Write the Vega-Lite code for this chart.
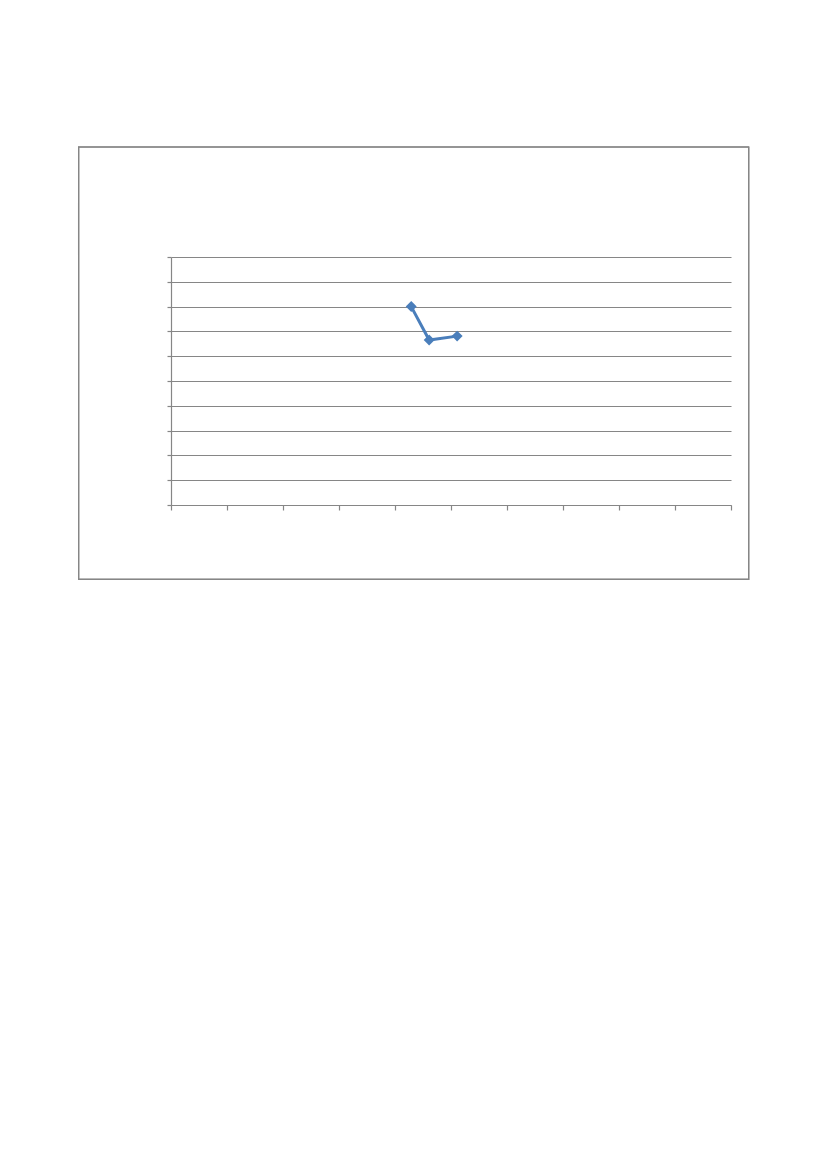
{
  "$schema": "https://vega.github.io/schema/vega-lite/v6.json",
  "autosize": {"type": "none"},
  "padding": {"left": 171, "top": 257, "right": 96, "bottom": 664},
  "width": 560,
  "height": 248,
  "background": "white",
  "data": {
    "values": [
      {"x": 4.29, "y": 8.0},
      {"x": 4.61, "y": 6.65},
      {"x": 5.11, "y": 6.81}
    ]
  },
  "encoding": {
    "x": {
      "field": "x",
      "type": "quantitative",
      "scale": {"domain": [0, 10], "nice": false, "zero": false},
      "axis": {
        "title": null,
        "labels": false,
        "grid": false,
        "values": [0, 1, 2, 3, 4, 5, 6, 7, 8, 9, 10],
        "domainColor": "#868686",
        "domainWidth": 1.2,
        "tickColor": "#868686",
        "tickWidth": 1.2,
        "tickSize": 5
      }
    },
    "y": {
      "field": "y",
      "type": "quantitative",
      "scale": {"domain": [0, 10], "nice": false},
      "axis": {
        "title": null,
        "labels": false,
        "values": [0, 1, 2, 3, 4, 5, 6, 7, 8, 9, 10],
        "grid": true,
        "gridColor": "#868686",
        "gridWidth": 1.2,
        "domainColor": "#868686",
        "domainWidth": 1.2,
        "tickColor": "#868686",
        "tickWidth": 1.2,
        "tickSize": 4
      }
    }
  },
  "layer": [
    {
      "mark": {"type": "rect", "fill": null, "stroke": "#868686", "strokeWidth": 1.2, "clip": false},
      "encoding": {
        "x": {"datum": -1.65, "type": "quantitative"},
        "x2": {"datum": 10.315},
        "y": {"datum": 14.435, "type": "quantitative"},
        "y2": {"datum": -3.0}
      }
    },
    {
      "mark": {"type": "line", "color": "#4a7ebb", "strokeWidth": 3}
    },
    {
      "mark": {"type": "point", "shape": "diamond", "filled": true, "color": "#4a7ebb", "size": 120, "opacity": 1}
    }
  ],
  "config": {
    "view": {"stroke": null}
  }
}
